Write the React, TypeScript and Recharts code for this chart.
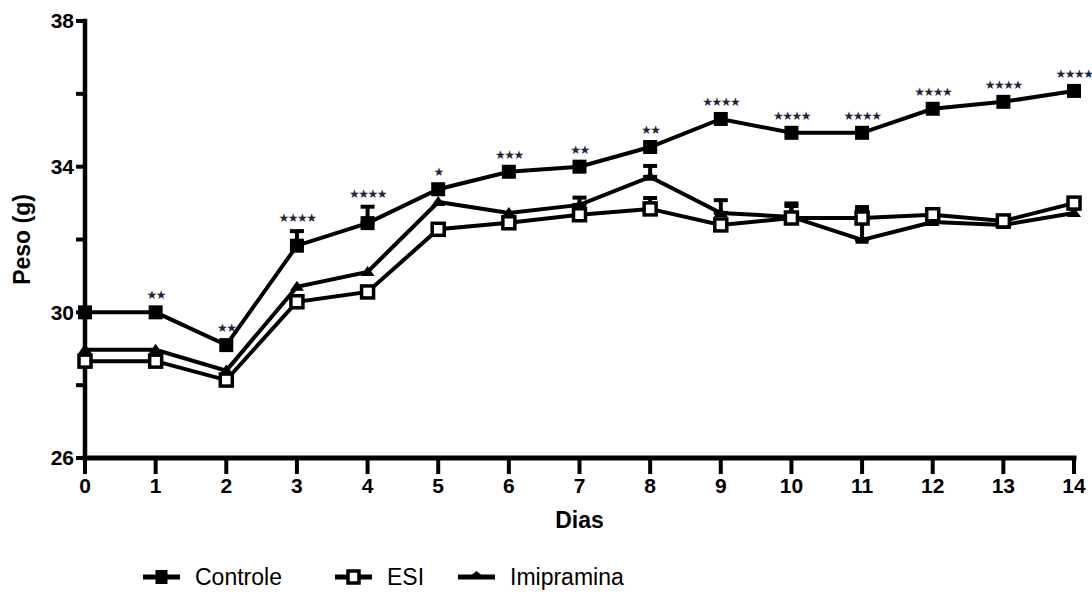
import React from 'react';
import { LineChart, Line, XAxis, YAxis, ErrorBar, Legend } from 'recharts';

const days = [0, 1, 2, 3, 4, 5, 6, 7, 8, 9, 10, 11, 12, 13, 14];
const controle = [30.0, 30.0, 29.1, 31.83, 32.45, 33.38, 33.86, 34.0, 34.54, 35.31, 34.93, 34.93, 35.59, 35.78, 36.08];
const esi = [28.66, 28.66, 28.14, 30.29, 30.56, 32.28, 32.46, 32.68, 32.84, 32.4, 32.59, 32.59, 32.68, 32.51, 33.0];
const imipramina = [28.97, 28.97, 28.4, 30.7, 31.11, 33.03, 32.73, 32.95, 33.72, 32.73, 32.62, 31.99, 32.48, 32.4, 32.73];
const controleErr = [null, null, null, 0.4, 0.45, null, null, null, null, null, null, null, null, null, null];
const esiErr = [null, null, null, null, null, null, null, null, 0.3, null, 0.4, 0.2, null, null, null];
const imipraminaErr = [null, null, null, null, null, null, null, 0.2, 0.3, 0.35, 0.3, 0.9, null, null, null];
const significance = ['', '★★', '★★', '★★★★', '★★★★', '★', '★★★', '★★', '★★', '★★★★', '★★★★', '★★★★', '★★★★', '★★★★', '★★★★'];
const yTicks = [26, 28, 30, 32, 34, 36, 38];
const yLabelTicks = [26, 30, 34, 38];

const data = days.map((d, i) => ({
  day: d,
  controle: controle[i],
  esi: esi[i],
  imipramina: imipramina[i],
  controleErr: controleErr[i] == null ? null : [0, controleErr[i]],
  esiErr: esiErr[i] == null ? null : [0, esiErr[i]],
  imipraminaErr: imipraminaErr[i] == null ? null : [0, imipraminaErr[i]],
  controleTop: controle[i] + (controleErr[i] ?? 0),
  sig: significance[i],
  hasErr: controleErr[i] != null,
}));

const FONT = '"Liberation Sans", Arial, Helvetica, sans-serif';

const FilledSquare = (props: any) => {
  const { cx, cy, index } = props;
  if (cx == null || cy == null) return <g key={`fs-${index}`} />;
  return <rect key={`fs-${index}`} x={cx - 7} y={cy - 7} width={14} height={14} fill="#000" />;
};

const OpenSquare = (props: any) => {
  const { cx, cy, index } = props;
  if (cx == null || cy == null) return <g key={`os-${index}`} />;
  return (
    <rect key={`os-${index}`} x={cx - 6} y={cy - 6} width={12} height={12} fill="#fff" stroke="#000" strokeWidth={3.5} />
  );
};

const Triangle = (props: any) => {
  const { cx, cy, index } = props;
  if (cx == null || cy == null) return <g key={`tr-${index}`} />;
  return (
    <polygon key={`tr-${index}`} points={`${cx},${cy - 6} ${cx - 7},${cy + 4} ${cx + 7},${cy + 4}`} fill="#000" />
  );
};

const StarLabel = (props: any) => {
  const { x, y, index } = props;
  const row = data[index];
  if (!row || !row.sig) return null;
  const gap = row.hasErr ? 13 : 17;
  return (
    <text
      key={`st-${index}`}
      x={x}
      y={y - gap}
      textAnchor="middle"
      dominantBaseline="central"
      fontSize={12}
      fill="#23233a"
      fontFamily="DejaVu Sans, sans-serif"
      letterSpacing={-1.5}
    >
      {row.sig}
    </text>
  );
};

const legendLayout: Record<string, { left: number; icon: string }> = {
  controle: { left: 143, icon: 'filled' },
  esi: { left: 335, icon: 'open' },
  imipramina: { left: 458, icon: 'tri' },
};

const LegendIcon = ({ kind }: { kind: string }) => (
  <svg width={37} height={20} style={{ display: 'block' }}>
    <line x1={0} y1={10} x2={37} y2={10} stroke="#000" strokeWidth={5} />
    {kind === 'filled' && <rect x={12.5} y={3} width={12} height={14} fill="#000" />}
    {kind === 'open' && <rect x={13} y={4} width={11} height={12} fill="#fff" stroke="#000" strokeWidth={3.5} />}
    {kind === 'tri' && <polygon points="18.5,4 10,11 27,11" fill="#000" />}
  </svg>
);

const renderLegend = (props: any) => {
  const items = (props.payload || []).filter((p: any) => legendLayout[p.dataKey]);
  return (
    <div style={{ position: 'relative', width: 1092, height: 34, fontFamily: FONT, fontSize: 23, color: '#000' }}>
      {items.map((p: any) => {
        const cfg = legendLayout[p.dataKey];
        return (
          <div
            key={p.dataKey}
            style={{ position: 'absolute', left: cfg.left, top: 0, height: 34, display: 'flex', alignItems: 'center', whiteSpace: 'nowrap' }}
          >
            <LegendIcon kind={cfg.icon} />
            <span style={{ marginLeft: 15 }}>{p.value}</span>
          </div>
        );
      })}
    </div>
  );
};

const YLabel = (props: any) => {
  const vb = props.viewBox || {};
  const cx = vb.x + 22;
  const cy = vb.y + vb.height / 2;
  return (
    <text
      x={cx}
      y={cy}
      transform={`rotate(-90, ${cx}, ${cy})`}
      textAnchor="middle"
      dominantBaseline="central"
      fontFamily={FONT}
      fontWeight="bold"
      fontSize={23}
      fill="#000"
    >
      Peso (g)
    </text>
  );
};

const XLabel = (props: any) => {
  const vb = props.viewBox || {};
  return (
    <text
      x={vb.x + vb.width / 2}
      y={vb.y + 62}
      textAnchor="middle"
      dominantBaseline="central"
      fontFamily={FONT}
      fontWeight="bold"
      fontSize={23}
      fill="#000"
    >
      Dias
    </text>
  );
};

const tickStyle = { fontSize: 21, fontWeight: 'bold', fill: '#000', fontFamily: FONT };

export default function App() {
  return (
    <div style={{ position: 'absolute', left: 0, top: 0, width: 1092, height: 594, background: '#fff' }}>
      <LineChart width={1092} height={594} data={data} margin={{ top: 21, right: 18, bottom: 76, left: 0 }}>
        <XAxis
          dataKey="day"
          type="number"
          domain={[0, 14]}
          ticks={days}
          interval={0}
          height={60}
          tickSize={16}
          tickMargin={4}
          axisLine={{ stroke: '#000', strokeWidth: 5, strokeLinecap: 'square' }}
          tickLine={{ stroke: '#000', strokeWidth: 4 }}
          tick={tickStyle}
          label={{ content: XLabel }}
        />
        <YAxis
          type="number"
          domain={[26, 38]}
          ticks={yTicks}
          interval={0}
          width={85}
          tickSize={9}
          tickMargin={2}
          tickFormatter={(v: number) => (yLabelTicks.includes(v) ? String(v) : '')}
          axisLine={{ stroke: '#000', strokeWidth: 4.5, strokeLinecap: 'square' }}
          tickLine={{ stroke: '#000', strokeWidth: 4 }}
          tick={tickStyle}
          label={{ content: YLabel }}
        />
        <Legend
          layout="vertical"
          align="center"
          verticalAlign="middle"
          content={renderLegend}
          wrapperStyle={{ position: 'absolute', left: 0, top: 560, width: 1092, height: 34 }}
        />
        <Line
          dataKey="imipramina"
          name="Imipramina"
          stroke="#000"
          strokeWidth={4}
          dot={Triangle}
          activeDot={false}
          isAnimationActive={false}
        >
          <ErrorBar dataKey="imipraminaErr" width={7} strokeWidth={4} stroke="#000" direction="y" isAnimationActive={false} />
        </Line>
        <Line
          dataKey="esi"
          name="ESI"
          stroke="#000"
          strokeWidth={4}
          dot={OpenSquare}
          activeDot={false}
          isAnimationActive={false}
        >
          <ErrorBar dataKey="esiErr" width={7} strokeWidth={4} stroke="#000" direction="y" isAnimationActive={false} />
        </Line>
        <Line
          dataKey="controle"
          name="Controle"
          stroke="#000"
          strokeWidth={4}
          dot={FilledSquare}
          activeDot={false}
          isAnimationActive={false}
        >
          <ErrorBar dataKey="controleErr" width={7} strokeWidth={4} stroke="#000" direction="y" isAnimationActive={false} />
        </Line>
        <Line
          dataKey="controleTop"
          stroke="none"
          dot={false}
          activeDot={false}
          legendType="none"
          label={StarLabel}
          isAnimationActive={false}
        />
      </LineChart>
    </div>
  );
}
